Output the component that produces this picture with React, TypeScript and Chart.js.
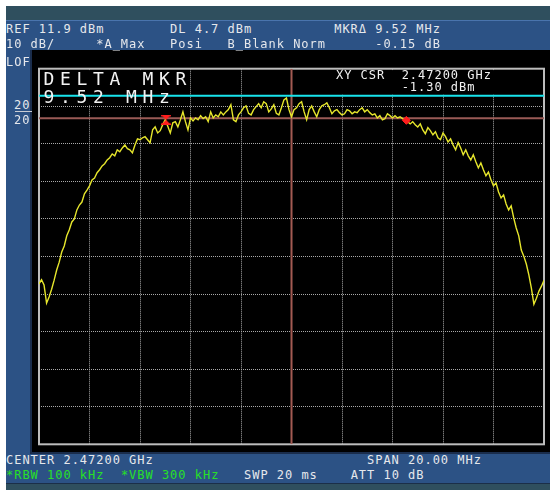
import React, { useEffect, useRef } from "react";
import { Chart, registerables } from "chart.js";

Chart.register(...registerables);

// ---- data ----
const START_MHZ = 2462;
const STOP_MHZ = 2482;
const STEP_MHZ = 0.1;
const TRACE_DBM = [
  -45.4, -44.3, -45.7, -50.5, -48.9, -46.8, -44.4, -41.7, -39.6, -36.9,
  -35.3, -32.6, -31.0, -28.9, -28.1, -25.7, -24.4, -23.6, -21.4, -20.4,
  -19.3, -17.7, -17.2, -15.8, -15.0, -14.0, -13.4, -12.4, -11.8, -10.8,
  -11.3, -9.7, -10.2, -9.2, -8.4, -9.4, -9.7, -10.5, -8.4, -6.8,
  -7.0, -6.5, -6.2, -7.0, -7.8, -4.4, -3.6, -5.2, -4.6, -3.0,
  -1.7, -3.4, -5.2, -2.5, -2.2, -3.6, -1.7, 0.4, -2.2, -4.4,
  -1.2, -2.0, -1.2, -1.7, -0.6, -1.4, -0.9, -2.2, 0.4, -1.2,
  -0.4, -0.9, 0.4, -0.4, 0.4, 1.0, 2.3, -1.7, -2.2, -0.4,
  0.4, 1.5, 2.0, 0.0, -0.4, 1.0, 1.8, 2.6, 1.5, 3.1,
  2.6, 0.4, 1.2, 2.3, 0.0, -0.4, 1.5, 3.6, 4.1, 1.0,
  -0.9, 1.0, 1.5, 2.6, 3.1, 0.4, -1.7, 1.0, 2.0, 0.4,
  -0.9, 1.0, 2.0, 2.3, 2.8, 1.5, -0.1, 0.7, 1.0, 0.2,
  -0.4, -0.1, 1.0, 0.7, -0.1, 0.4, 0.2, 1.0, 1.5, 0.4,
  1.0, 0.2, -0.4, -0.1, -1.2, -0.6, -1.7, -1.4, -0.1, -0.6,
  -1.2, -0.6, -1.2, -0.9, -1.4, -1.85, -2.2, -2.8, -2.2, -3.0,
  -3.6, -2.8, -4.4, -5.4, -3.8, -4.6, -5.7, -4.9, -6.5, -7.0,
  -5.2, -6.2, -7.6, -6.8, -8.4, -9.7, -7.8, -9.2, -11.0, -9.7,
  -11.3, -12.4, -11.0, -12.9, -14.5, -13.2, -15.0, -16.6, -15.6, -17.7,
  -19.3, -18.5, -20.9, -22.5, -21.7, -24.1, -25.7, -24.6, -27.8, -30.5,
  -32.6, -36.4, -38.0, -40.1, -43.0, -46.5, -50.8, -49.2, -47.3, -46.0,
  -44.4,
];
const FREQ_TICKS = [2462, 2464, 2466, 2468, 2470, 2472, 2474, 2476, 2478, 2480, 2482];
const LEVEL_TICKS = [11.9, 1.9, -8.1, -18.1, -28.1, -38.1, -48.1, -58.1, -68.1, -78.1, -88.1];
const REF_LEVEL = 11.9;
const BOTTOM_LEVEL = -88.1;
const DISPLAY_LINE_DBM = 4.7;
const CURSOR_FREQ = 2472;
const CURSOR_DBM = -1.3;
const MARKER_FREQS = [2467.03, 2476.55];
const MARKER_DBM = [-1.7, -1.85];

// ---- styles ----
const MONO = '"DejaVu Sans Mono", monospace';
const PANEL_BLUE = "#2c5285";
const TEAL = "#2f4f5e";
const GRID = "#a9a9a9";
const FRAME = "#bdbdbd";

function hourglass(): HTMLCanvasElement {
  const c = document.createElement("canvas");
  c.width = 10;
  c.height = 10;
  const g = c.getContext("2d")!;
  g.fillStyle = "#ff1e1e";
  g.beginPath();
  g.moveTo(0, 0);
  g.lineTo(10, 0);
  g.lineTo(5, 5);
  g.closePath();
  g.moveTo(0, 10);
  g.lineTo(10, 10);
  g.lineTo(5, 5);
  g.closePath();
  g.fill();
  g.fillRect(0, 0, 10, 1.5);
  g.fillRect(0, 8.5, 10, 1.5);
  return c;
}

const panelPlugin = {
  id: "panelPlugin",
  beforeDatasetsDraw(chart: any) {
    const { ctx, chartArea: a } = chart;
    ctx.save();
    ctx.fillStyle = "#000";
    // areas behind the on-screen annotations hide the graticule
    ctx.fillRect(a.left + 1.5, a.top + 1.5, 148.5, 35);
    ctx.fillRect(a.left + 294, a.top + 1.5, 61.5, 24);
    ctx.fillRect(a.left + 360.5, a.top + 1.5, 96, 24);
    ctx.strokeStyle = FRAME;
    ctx.lineWidth = 2;
    ctx.strokeRect(a.left, a.top, a.right - a.left, a.bottom - a.top);
    ctx.restore();
  },
};

const small: React.CSSProperties = {
  position: "absolute",
  fontFamily: MONO,
  fontSize: 12,
  lineHeight: "12px",
  letterSpacing: "0.98px",
  color: "#e6e8ec",
  whiteSpace: "pre",
  margin: 0,
};
const big: React.CSSProperties = {
  position: "absolute",
  fontFamily: MONO,
  fontSize: 18,
  lineHeight: "18px",
  letterSpacing: "5.66px",
  color: "#f2f2f2",
  whiteSpace: "pre",
  margin: 0,
};
const GREEN = "#27e027";

export default function App() {
  const ref = useRef<HTMLCanvasElement | null>(null);

  useEffect(() => {
    if (!ref.current) return;
    const trace = TRACE_DBM.map((v, i) => ({ x: START_MHZ + i * STEP_MHZ, y: v }));
    const markers = MARKER_FREQS.map((f, i) => ({ x: f, y: MARKER_DBM[i] }));
    const chart = new Chart(ref.current, {
      type: "scatter",
      data: {
        datasets: [
          {
            data: markers,
            showLine: false,
            pointStyle: [hourglass(), "rectRot"] as any,
            pointRadius: [5, 4] as any,
            pointBorderWidth: 1,
            pointBackgroundColor: "#ff1e1e",
            pointBorderColor: "#ff1e1e",
            order: 0,
          } as any,
          {
            data: trace,
            showLine: true,
            borderColor: "#e6e62c",
            borderWidth: 1.4,
            pointRadius: 0,
            tension: 0,
            order: 1,
          },
          {
            data: [
              { x: START_MHZ, y: DISPLAY_LINE_DBM },
              { x: STOP_MHZ, y: DISPLAY_LINE_DBM },
            ],
            showLine: true,
            borderColor: "#18e4ec",
            borderWidth: 2,
            pointRadius: 0,
            order: 2,
          },
          {
            data: [
              { x: START_MHZ, y: CURSOR_DBM },
              { x: STOP_MHZ, y: CURSOR_DBM },
            ],
            showLine: true,
            borderColor: "#9a5a56",
            borderWidth: 2,
            pointRadius: 0,
            order: 3,
          },
          {
            data: [
              { x: CURSOR_FREQ, y: REF_LEVEL },
              { x: CURSOR_FREQ, y: BOTTOM_LEVEL },
            ],
            showLine: true,
            borderColor: "#a35a52",
            borderWidth: 2,
            pointRadius: 0,
            order: 3,
          },
        ],
      },
      options: {
        animation: false,
        responsive: false,
        maintainAspectRatio: false,
        devicePixelRatio: 1,
        layout: { padding: { left: 7, top: 18.7, right: 1, bottom: 7.7 } },
        plugins: { legend: { display: false }, tooltip: { enabled: false } },
        scales: {
          x: {
            type: "linear",
            min: START_MHZ,
            max: STOP_MHZ,
            afterBuildTicks: (s: any) => {
              s.ticks = FREQ_TICKS.map((value) => ({ value }));
            },
            ticks: { display: false },
            grid: { color: GRID, lineWidth: 1, drawTicks: false },
            border: { display: false, dash: [1, 1] },
          },
          y: {
            type: "linear",
            min: BOTTOM_LEVEL,
            max: REF_LEVEL,
            afterBuildTicks: (s: any) => {
              s.ticks = LEVEL_TICKS.map((value) => ({ value }));
            },
            ticks: { display: false },
            grid: { color: GRID, lineWidth: 1, drawTicks: false },
            border: { display: false, dash: [1, 1] },
          },
        },
      },
      plugins: [panelPlugin],
    });
    return () => chart.destroy();
  }, []);

  return (
    <div
      style={{
        position: "fixed",
        left: 0,
        top: 0,
        width: 550,
        height: 490,
        background: "#fff",
        overflow: "hidden",
      }}
    >
      {/* frames */}
      <div style={{ position: "absolute", left: 6, top: 6, width: 544, height: 14, background: TEAL }} />
      <div
        style={{
          position: "absolute",
          left: 6,
          top: 20,
          width: 544,
          height: 463,
          background: PANEL_BLUE,
          borderTop: "1px solid #4a74ad",
          boxSizing: "border-box",
        }}
      />
      <div style={{ position: "absolute", left: 6, top: 483, width: 544, height: 7, background: TEAL, borderTop: "1px solid #1b2f48", boxSizing: "border-box" }} />
      <div style={{ position: "absolute", left: 30, top: 50, width: 520, height: 404, background: "#1a2d4c" }} />
      <canvas
        ref={ref}
        width={518}
        height={402}
        style={{ position: "absolute", left: 32, top: 50, width: 518, height: 402, background: "#000" }}
      />

      {/* header */}
      <div style={{ ...small, left: 6, top: 22.6 }}>{"REF 11.9 dBm        DL 4.7 dBm          MKRΔ 9.52 MHz"}</div>
      <div style={{ ...small, left: 6, top: 37.9 }}>{"10 dB/     *A_Max   Posi   B_Blank Norm      -0.15 dB"}</div>
      <div style={{ ...small, left: 6, top: 55.6 }}>{"LOF"}</div>

      {/* left scale labels */}
      <div style={{ ...small, left: 14, top: 98.6 }}>{"20"}</div>
      <div style={{ position: "absolute", left: 15, top: 111, width: 17, height: 1, background: "#c8ccd4" }} />
      <div style={{ ...small, left: 14, top: 113.6 }}>{"20"}</div>

      {/* annotations in the graticule */}
      <div style={{ ...big, left: 43.5, top: 69.6 }}>{"DELTA MKR"}</div>
      <div style={{ ...big, left: 43.5, top: 87.9 }}>{"9.52 MHz"}</div>
      <div style={{ ...small, left: 336, top: 68.6, color: "#f0f0f0" }}>{"XY CSR  2.47200 GHz"}</div>
      <div style={{ ...small, left: 336, top: 80.6, color: "#f0f0f0" }}>{"        -1.30 dBm"}</div>

      {/* footer */}
      <div style={{ ...small, left: 6, top: 454.3 }}>{"CENTER 2.47200 GHz                          SPAN 20.00 MHz"}</div>
      <div style={{ ...small, left: 6, top: 468.6 }}>
        <span style={{ color: GREEN }}>{"*RBW 100 kHz"}</span>
        {"  "}
        <span style={{ color: GREEN }}>{"*VBW 300 kHz"}</span>
        {"   SWP 20 ms    ATT 10 dB"}
      </div>
    </div>
  );
}
